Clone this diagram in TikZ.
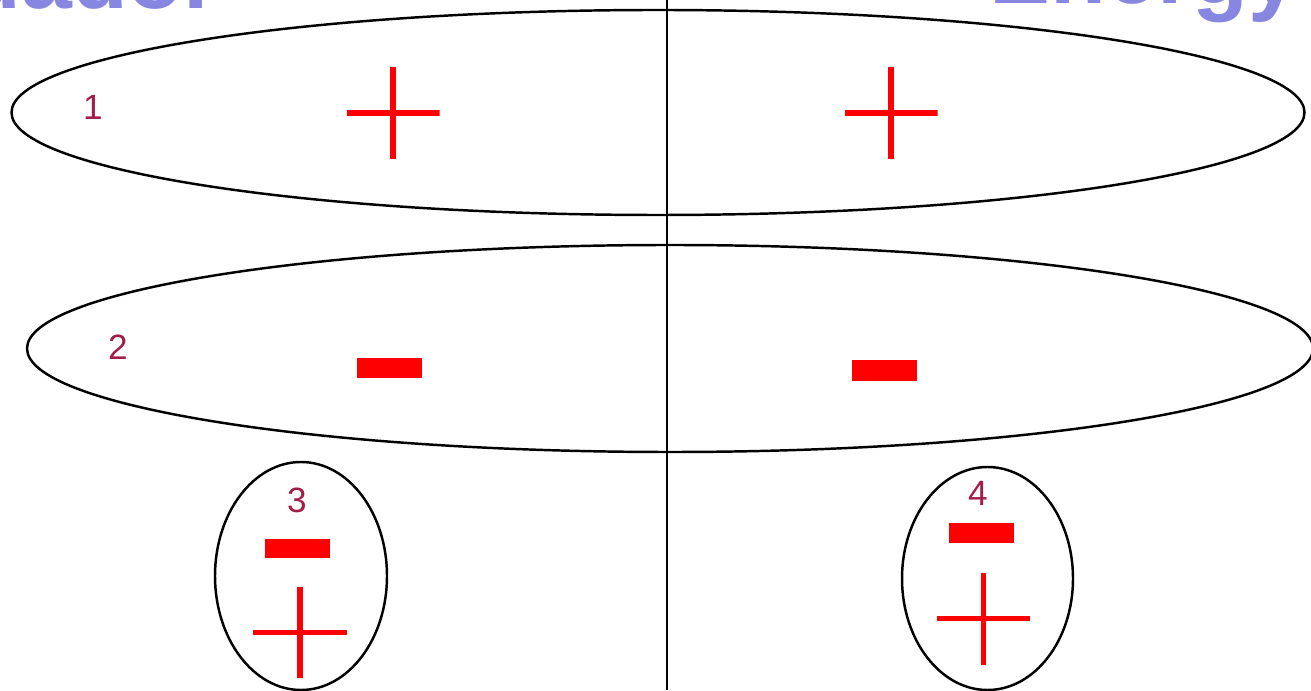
\documentclass[tikz,border=0pt]{standalone}
\usepackage{fontspec}
\setmainfont{Liberation Sans}
\usepackage{tikz}
\usetikzlibrary{shapes.geometric,positioning}
\definecolor{numred}{RGB}{160,30,72}
\definecolor{titleblue}{RGB}{135,135,225}

\begin{document}
\begin{tikzpicture}[font=\fontsize{10}{12}\selectfont,
  ring/.style={draw, ellipse, line width=0.7pt, inner sep=0pt},
  num/.style={text=numred, inner sep=0pt},
  minus/.style={fill=red, inner sep=0pt, minimum width=6.5mm, minimum height=2mm},
  plus/.style={inner sep=0pt, minimum width=9.3mm, minimum height=9.2mm,
    path picture={\draw[red, line width=1.5pt]
      (path picture bounding box.north) -- (path picture bounding box.south)
      (path picture bounding box.west) -- (path picture bounding box.east);}},
  title/.style={text=titleblue, font=\fontsize{26}{30}\selectfont\bfseries, inner sep=0pt}]
\useasboundingbox (0,0) rectangle (13.11,6.90);
% titles, cut off by the page edge
\node[title, anchor=base east] (tleft) at (2.2,6.81) {Ecuador};
\node[title, anchor=base east] (tright) at (13.0,6.865) {Energy};
% axis
\coordinate (axtop) at (6.67,6.90);
\coordinate (axbot) at (6.67,0);
\draw[line width=0.7pt] (axtop) -- (axbot);
% rings
\node[ring, minimum width=129.3mm, minimum height=20.5mm] (r1) at (6.58,5.775) {};
\node[ring, minimum width=128.6mm, minimum height=20.7mm] (r2) at (6.70,3.415) {};
\node[ring, minimum width=17.2mm, minimum height=22.8mm] (r3) at (3.01,1.14) {};
\node[ring, minimum width=17.1mm, minimum height=22.3mm] (r4) at (9.875,1.115) {};
% numbers
\node[num] (n1) at (0.93,5.83) {1};
\node[num] (n2) at (1.18,3.43) {2};
\node[num] (n3) at (2.97,1.90) {3};
\node[num] (n4) at (9.78,1.97) {4};
% signs
\node[plus] (p1l) at (3.93,5.77) {};
\node[plus] (p1r) at (8.91,5.77) {};
\node[minus] (m2l) at (3.895,3.22) {};
\node[minus, minimum height=2.1mm] (m2r) at (8.845,3.195) {};
\node[minus, minimum height=1.9mm] (m3) at (2.975,1.415) {};
\node[plus, minimum width=9.4mm, minimum height=9.1mm] (p3) at (3.00,0.575) {};
\node[minus] (m4) at (9.815,1.57) {};
\node[plus] (p4) at (9.835,0.715) {};
\end{tikzpicture}
\end{document}
